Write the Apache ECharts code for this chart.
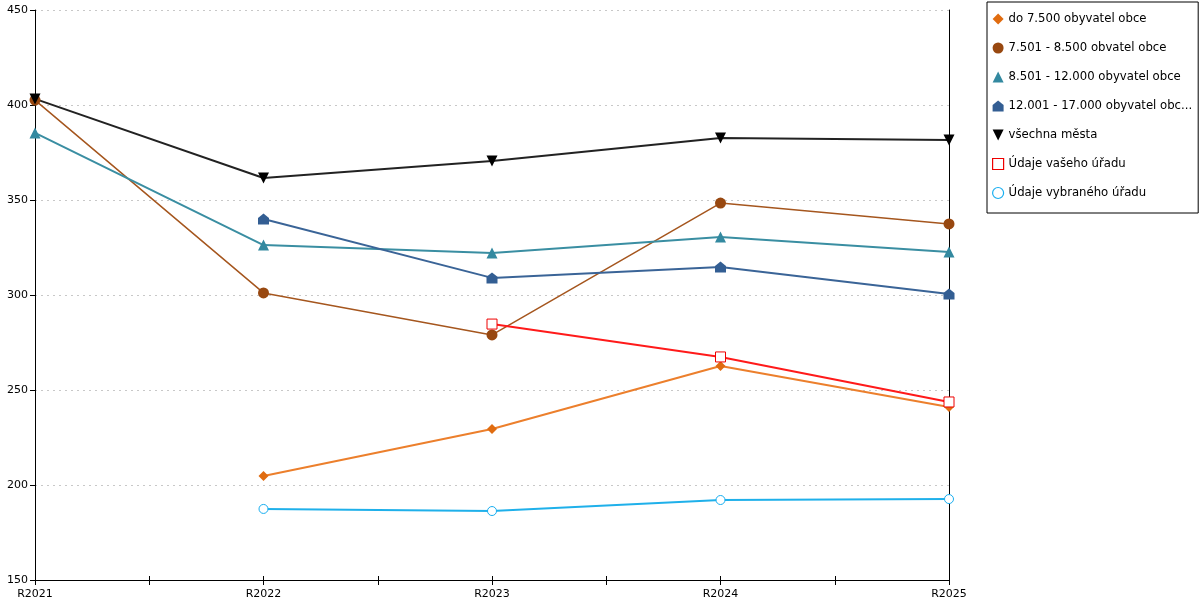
<!DOCTYPE html>
<html>
<head>
<meta charset="utf-8">
<script src="https://cdn.jsdelivr.net/npm/echarts@6/dist/echarts.min.js"></script>
<style>html,body{margin:0;padding:0;background:#fff}#c{width:1200px;height:600px}</style>
</head>
<body>
<div id="c"></div>
<script>
const categories = ['R2021', 'R2022', 'R2023', 'R2024', 'R2025'];
const seriesNames = [
  'do 7.500 obyvatel obce',
  '7.501 - 8.500 obvatel obce',
  '8.501 - 12.000 obyvatel obce',
  '12.001 - 17.000 obyvatel obce',
  'všechna města',
  'Údaje vašeho úřadu',
  'Údaje vybraného úřadu'
];
const do7500 = [null, 204.7, 229.5, 262.6, 241.0];
const r7501 = [402.6, 301.1, 279.0, 348.4, 337.4];
const r8501 = [385.3, 326.3, 322.1, 330.5, 322.6];
const r12001 = [null, 340.0, 309.0, 314.7, 300.5];
const vsechna = [403.2, 361.6, 370.5, 382.6, 381.6];
const vasUrad = [null, null, 284.7, 267.4, 243.7];
const vybranyUrad = [null, 187.4, 186.3, 192.1, 192.6];
const yTicks = [150, 200, 250, 300, 350, 400, 450];

const FONT = 'DejaVu Sans';
const HOUSE = 'path://M0,4 L5,0 L10,4 L10,10 L0,10 Z';
const INVTRI = 'path://M0,0 L10,0 L5,10 Z';
const chart = echarts.init(document.getElementById('c'), null, {renderer: 'canvas'});

function mk(name, data, color, symbol, size, width, extra) {
  return Object.assign({
    name: name, type: 'line', data: data, xAxisIndex: 0, yAxisIndex: 0,
    symbol: symbol, symbolSize: size, showSymbol: true, connectNulls: false,
    lineStyle: {color: color, width: width},
    itemStyle: {color: color},
    emphasis: {disabled: true}
  }, extra || {});
}

const legendIcons = ['diamond', 'circle', 'triangle', HOUSE, INVTRI, 'rect', 'circle'];
const legendItemStyles = [
  {color: '#e06c10'}, {color: '#984810'}, {color: '#3389a0'}, {color: '#335e93'}, {color: '#000'},
  {color: '#fff', borderColor: '#e00', borderWidth: 1.2},
  {color: '#fff', borderColor: '#18aef0', borderWidth: 1.2}
];

const option = {
  animation: false,
  backgroundColor: '#fff',
  textStyle: {fontFamily: FONT},
  grid: {left: 35, right: 251, top: 10, bottom: 20, containLabel: false},
  legend: {
    orient: 'vertical', left: 987, top: 2,
    padding: [10, 6, 13, 5],
    itemGap: 15, itemWidth: 11, itemHeight: 11,
    borderColor: '#000', borderWidth: 1, backgroundColor: '#fff',
    textStyle: {fontFamily: FONT, fontSize: 11.7, color: '#000', lineHeight: 14},
    formatter: n => (n.length > 28 ? n.slice(0, 28) + '...' : n),
    data: seriesNames.map((n, i) => ({name: n, icon: legendIcons[i], itemStyle: legendItemStyles[i]}))
  },
  xAxis: [
    {
      type: 'category', data: categories, boundaryGap: false, position: 'bottom',
      axisLine: {onZero: false, lineStyle: {color: '#000', width: 1}},
      axisTick: {show: false},
      axisLabel: {fontFamily: FONT, fontSize: 11, color: '#000', margin: 9},
      splitLine: {show: false}
    },
    {
      type: 'value', min: 0, max: 8, interval: 1, position: 'bottom',
      axisLine: {show: false, onZero: false},
      axisTick: {show: true, length: 5, lineStyle: {color: '#000'}},
      axisLabel: {show: false}, splitLine: {show: false}
    },
    {
      type: 'value', min: 0, max: 8, interval: 1, position: 'bottom',
      axisLine: {show: false, onZero: false},
      axisTick: {show: true, inside: true, length: 4, lineStyle: {color: '#000'}},
      axisLabel: {show: false}, splitLine: {show: false}
    }
  ],
  yAxis: [
    {
      type: 'value', min: yTicks[0], max: yTicks[yTicks.length - 1], interval: 50, position: 'left',
      axisLine: {show: true, onZero: false, lineStyle: {color: '#000'}},
      axisTick: {show: true, length: 5, lineStyle: {color: '#000'}},
      axisLabel: {fontFamily: FONT, fontSize: 11, color: '#000', margin: 7},
      splitLine: {show: true, lineStyle: {color: '#c8c8c8', type: [2, 4], width: 1}}
    },
    {
      type: 'value', min: yTicks[0], max: yTicks[yTicks.length - 1], interval: 50, position: 'right',
      axisLine: {show: true, onZero: false, lineStyle: {color: '#000'}},
      axisTick: {show: false}, axisLabel: {show: false}, splitLine: {show: false}
    }
  ],
  series: [
    mk(seriesNames[0], do7500, '#e8711a', 'diamond', 10, 2, {itemStyle: {color: '#e06c10'}, lineStyle: {color: '#ec7f2c', width: 2}}),
    mk(seriesNames[1], r7501, '#a5561e', 'circle', 11, 1.5, {itemStyle: {color: '#984810'}}),
    mk(seriesNames[2], r8501, '#3a8ea2', 'triangle', 11, 2, {itemStyle: {color: '#3389a0'}}),
    mk(seriesNames[3], r12001, '#3a6497', HOUSE, 11, 2, {itemStyle: {color: '#335e93'}}),
    mk(seriesNames[4], vsechna, '#222', INVTRI, 11, 2, {itemStyle: {color: '#000'}}),
    mk(seriesNames[5], vasUrad, '#ff1a1a', 'rect', 10, 2, {itemStyle: {color: '#fff', borderColor: '#e00', borderWidth: 1}}),
    mk(seriesNames[6], vybranyUrad, '#1fb0ea', 'circle', 9, 2, {itemStyle: {color: '#fff', borderColor: '#18aef0', borderWidth: 1}})
  ]
};
chart.setOption(option);
</script>
</body>
</html>
